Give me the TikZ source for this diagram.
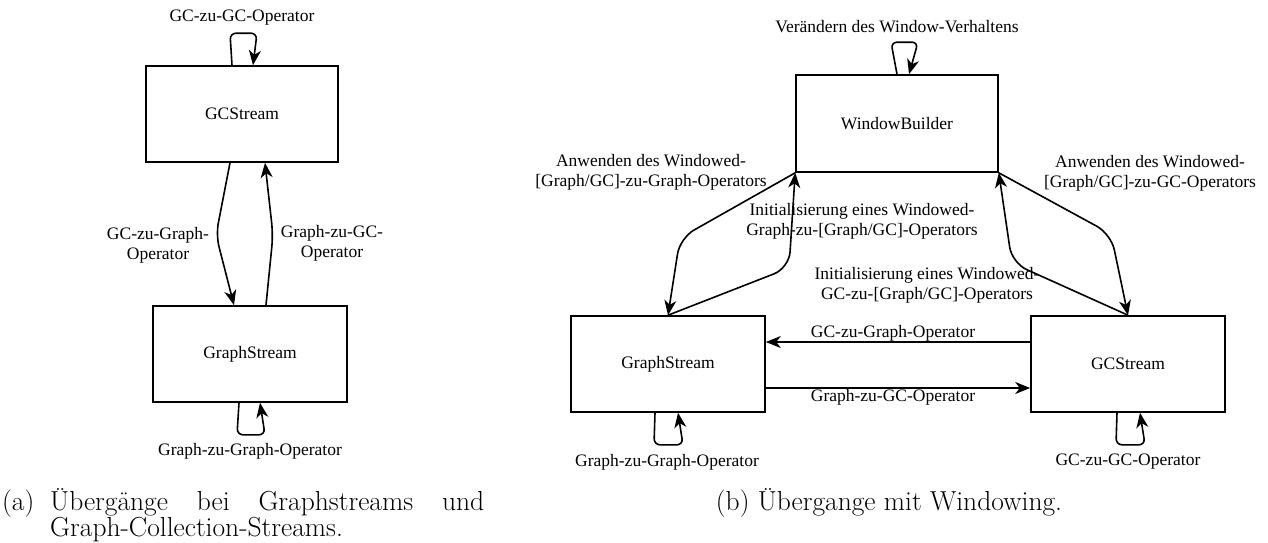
\documentclass[tikz,border=0pt]{standalone}
\usepackage{fontspec}
\newfontfamily\labelfont{Liberation Serif}
\usetikzlibrary{arrows.meta}

\tikzset{
	stream/.style={draw, line width=1.6pt, minimum width=194pt, minimum height=96pt, font=\labelfont\fontsize{17.5}{20}\selectfont},
	lbl/.style={font=\labelfont\fontsize{17.5}{20}\selectfont, align=center, inner sep=0pt},
	arr/.style={line width=1.6pt, -{Stealth[length=15pt,width=12pt,inset=4.5pt]}},
	capt/.style={font=\fontsize{27.5}{26}\selectfont, inner sep=0pt}
}

\begin{document}
\begin{tikzpicture}[x=1pt,y=-1pt]
\useasboundingbox (0,0) rectangle (1268,542);
% (a) ohne Windowing
\node[stream, minimum width=192pt] (gcA) at (242,114) {GCStream};
\node[stream] (graphA) at (250,354) {GraphStream};
\draw[arr, rounded corners=6pt] ([xshift=-10pt]gcA.north) -- ++(-2,-32) -- ++(27,0) -- ([xshift=11pt]gcA.north);
\draw[arr, rounded corners=6pt] ([xshift=-11pt]graphA.south) -- ++(-2,32) -- ++(28,0) -- ([xshift=10pt]graphA.south);
\draw[arr, rounded corners=12pt] ([xshift=-12pt]gcA.south) -- (216,235) -- ([xshift=-16pt]graphA.north);
\draw[arr, rounded corners=12pt] ([xshift=16pt]graphA.north) -- (273,235) -- ([xshift=23pt]gcA.south);
\node[lbl] (gcgcA) at (242,18) {GC-zu-GC-Operator};
\node[lbl] (gcgraphA) at (158,245) {GC-zu-Graph-\\Operator};
\node[lbl] (graphgcA) at (332,243) {Graph-zu-GC-\\Operator};
\node[lbl] (graphgraphA) at (250,451) {Graph-zu-Graph-Operator};
\node[capt, anchor=base west] (captA) at (2,510) {(a)};
\node[capt, anchor=base west] (captA1) at (50,510) {\makebox[434pt][s]{Übergänge bei Graphstreams und}};
\node[capt, anchor=base west] (captA2) at (50,536) {Graph-Collection-Streams.};

% (b) mit Windowing
\node[stream, minimum width=202pt, minimum height=97pt] (wb) at (897,123.5) {WindowBuilder};
\node[stream] (graphB) at (668,364) {GraphStream};
\node[stream] (gcB) at (1128,364) {GCStream};
\draw[arr, rounded corners=6pt] (wb.north) -- ++(-6,-32) -- ++(27,0) -- ([xshift=12pt]wb.north);
\draw[arr, rounded corners=6pt] ([xshift=-13pt]graphB.south) -- ++(-1,32) -- ++(29,0) -- ([xshift=10pt]graphB.south);
\draw[arr, rounded corners=6pt] ([xshift=-11pt]gcB.south) -- ++(-1,32) -- ++(29,0) -- ([xshift=12pt]gcB.south);
\draw[arr] ([yshift=22pt]gcB.west) -- ([yshift=22pt]graphB.east);
\draw[arr] ([yshift=-24pt]graphB.east) -- ([yshift=-24pt]gcB.west);
\draw[arr, rounded corners=16pt] (wb.south west) -- (680,238) -- (graphB.north);
\draw[arr, rounded corners=16pt] (graphB.north) -- (789,268) -- (wb.south west);
\draw[arr, rounded corners=16pt] (wb.south east) -- (1111,234) -- (gcB.north);
\draw[arr, rounded corners=16pt] (gcB.north) -- (1012,263) -- (wb.south east);
\node[lbl] (verhalten) at (897,27) {Verändern des Window-Verhaltens};
\node[lbl] (anwGraph) at (651,172) {Anwenden des Windowed-\\{[Graph/GC]}-zu-Graph-Operators};
\node[lbl] (initGraph) at (862,221) {Initialisierung eines Windowed-\\Graph-zu-[Graph/GC]-Operators};
\node[lbl] (initGC) at (927,285) {Initialisierung eines Windowed-\\GC-zu-[Graph/GC]-Operators};
\node[lbl] (anwGC) at (1150,173) {Anwenden des Windowed-\\{[Graph/GC]}-zu-GC-Operators};
\node[lbl] (gcgraphB) at (893,333) {GC-zu-Graph-Operator};
\node[lbl] (graphgcB) at (893,397) {Graph-zu-GC-Operator};
\node[lbl] (graphgraphB) at (667,462) {Graph-zu-Graph-Operator};
\node[lbl] (gcgcB) at (1128,462) {GC-zu-GC-Operator};
\node[capt, anchor=base] (captB) at (889,510) {(b) Übergange mit Windowing.};
\end{tikzpicture}
\end{document}
